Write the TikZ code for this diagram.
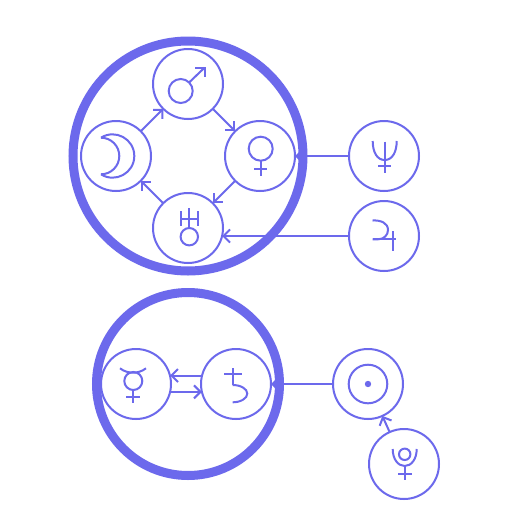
\documentclass[tikz,border=0pt]{standalone}
\usetikzlibrary{arrows.meta}
\definecolor{ink}{HTML}{6C69EC}
\tikzset{
  planet/.style={draw=ink,line width=2pt,circle,minimum size=70pt,inner sep=0pt,outer sep=0pt,fill=none},
  ring/.style={draw=ink,line width=9pt,circle,inner sep=0pt,outer sep=0pt},
  link/.style={draw=ink,line width=2pt,-{Straight Barb[length=6.5pt,width=13pt,line width=2pt]}},
  glyph/.style={draw=ink,line width=2pt,fill=none}
}
\begin{document}
\begin{tikzpicture}[x=1pt,y=-1pt]
\path[use as bounding box,fill=white] (0,0) rectangle (512,512);
% groups
\node[ring,minimum size=230pt] (outerA) at (188,156) {};
\node[ring,minimum size=183pt] (outerB) at (188,384) {};
% planets
\node[planet] (mars) at (188,84) {};
\node[planet] (venus) at (260,156) {};
\node[planet] (uranus) at (188,228) {};
\node[planet] (moon) at (116,156) {};
\node[planet] (neptune) at (384,156) {};
\node[planet] (jupiter) at (384,236) {};
\node[planet] (mercury) at (136,384) {};
\node[planet] (saturn) at (236,384) {};
\node[planet] (sun) at (368,384) {};
\node[planet] (pluto) at (404,464) {};
% connectors
\draw[link] (moon) -- (mars);
\draw[link] (mars) -- (venus);
\draw[link] (venus) -- (uranus);
\draw[link] (uranus) -- (moon);
\draw[link] (neptune) -- (venus);
\draw[link] (jupiter.west) -- (jupiter.west -| uranus.-13.2);
\draw[link] (saturn.166.1) -- (saturn.166.1 -| mercury.13.2);
\draw[link] (mercury.-13.2) -- (mercury.-13.2 -| saturn.193.2);
\draw[link] (sun) -- (saturn);
\draw[link] (pluto) -- (sun);
% Mars
\draw[glyph] (180.7,91) circle[radius=12];
\draw[glyph] (189.3,82.3) -- (204.5,67.7);
\draw[glyph] (195,67.7) -- (204.7,67.7) -- (204.7,77.3);
% Venus
\draw[glyph] (260.7,148.7) circle[radius=12];
\draw[glyph] (260.7,160.7) -- (260.7,175.5);
\draw[glyph] (254,169) -- (267.3,169);
% Uranus
\draw[glyph] (189.3,208.3) -- (189.3,228);
\draw[glyph] (180.7,211) -- (180.7,226);
\draw[glyph] (198,211) -- (198,226);
\draw[glyph] (180.7,219) -- (198,219);
\draw[glyph] (189.3,236.7) circle[radius=8.7];
% Moon
\draw[glyph] (101,137.7) .. controls (115.4,128.6) and (134.3,138.9) .. (134.3,156)
  .. controls (134.3,173.1) and (115.4,183.4) .. (101,174.3);
\draw[glyph] (101,137.7) .. controls (111.1,137.7) and (119.3,145.9) .. (119.3,156)
  .. controls (119.3,166.1) and (111.1,174.3) .. (101,174.3);
% Neptune
\draw[glyph] (372.7,141) .. controls (372.7,152) and (377,160) .. (384.7,160)
  .. controls (392.4,160) and (396.7,152) .. (396.7,141);
\draw[glyph] (384.7,141.7) -- (384.7,172.7);
\draw[glyph] (378,166) -- (391,166);
% Jupiter
\draw[glyph] (372.5,220.5) .. controls (381,220) and (388,223) .. (388,230)
  .. controls (388,235) and (384,239.3) .. (378,239.3) -- (372.5,239.3);
\draw[glyph] (372.5,239.3) -- (395.5,239.3);
\draw[glyph] (392.7,231) -- (392.7,250.5);
% Mercury
\draw[glyph] (120,368.3) .. controls (124,371.5) and (129,372.7) .. (133,372.7)
  .. controls (137,372.7) and (142,371.5) .. (146,368.3);
\draw[glyph] (133.3,381) circle[radius=9];
\draw[glyph] (133.3,390) -- (133.3,403.3);
\draw[glyph] (126.3,397) -- (140,397);
% Saturn
\draw[glyph] (232.7,368) -- (232.7,385);
\draw[glyph] (224,374) -- (241.7,374);
\draw[glyph] (232.7,385) .. controls (240.7,385) and (247.3,388.8) .. (247.3,393.6)
  .. controls (247.3,398.4) and (240.7,402.3) .. (232.7,402.3);
% Sun
\draw[glyph] (368,384) circle[radius=19.3];
\fill[ink] (368,384) circle[radius=3.2];
% Pluto
\draw[glyph] (392.7,449) .. controls (392.7,459) and (398,466) .. (404.7,466)
  .. controls (411.4,466) and (416.7,459) .. (416.7,449);
\draw[glyph] (404.7,454.3) circle[radius=5.7];
\draw[glyph] (404.7,466) -- (404.7,480);
\draw[glyph] (398,474.3) -- (411.7,474.3);
\end{tikzpicture}
\end{document}
